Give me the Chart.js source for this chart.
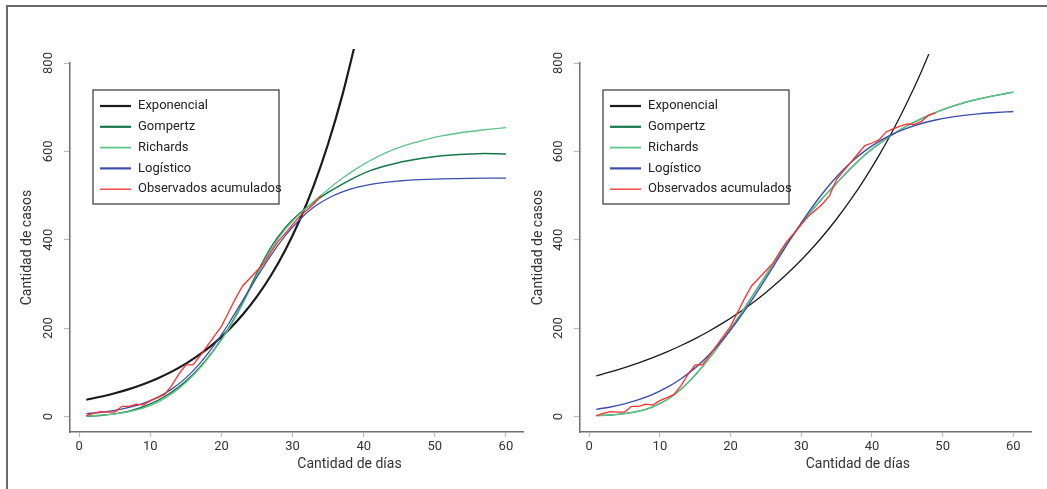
<!DOCTYPE html>
<html>
<head>
<meta charset="utf-8">
<script src="https://cdn.jsdelivr.net/npm/chart.js@4.4.0/dist/chart.umd.min.js"></script>
<style>
    body { margin: 0; background: #fff; }
    #wrap { position: relative; width: 1047px; height: 489px; overflow: hidden; }
    #frame { position: absolute; left: 6px; top: 5px; right: -4px; bottom: -4px; border-top: 2px solid #6a6a6a; border-left: 2px solid #6a6a6a; }
    canvas { position: absolute; top: 0; }
</style>
</head>
<body>
<div id="wrap">
    <div id="frame"></div>
    <canvas id="left-chart" width="525" height="489" style="left:0"></canvas>
    <canvas id="right-chart" width="522" height="489" style="left:525px"></canvas>
</div>
<script>
// --- Data ---
const legendLabels = ['Exponencial', 'Gompertz', 'Richards', 'Logístico', 'Observados acumulados'];
const xTicks = [0, 10, 20, 30, 40, 50, 60];
const yTicks = [0, 200, 400, 600, 800];
const xTitle = 'Cantidad de días';
const yTitle = 'Cantidad de casos';

// days for the fitted curves (every 2 days) and for the observed counts
const modelDays = [1, 3, 5, 7, 9, 11, 13, 15, 17, 19, 21, 23, 25, 27, 29, 31, 33, 35, 37, 39, 41, 43, 45, 47, 49, 51, 53, 55, 57, 59, 60];
const obsDays = [1, 2, 3, 4, 5, 6, 7, 8, 9, 10, 11, 12, 13, 14, 15, 16, 17, 18, 19, 20, 21, 22, 23, 24, 25,
    26, 27, 28, 29, 30, 31, 32, 33, 34, 35, 36, 37, 38, 39, 40, 41, 42, 43, 44, 45, 46, 47, 48, 49];

// accumulated observed cases (left panel uses the first 34 days)
const observed = [2, 7, 11, 10, 10, 23, 23, 28, 26, 36, 43, 50, 70, 96, 117, 117, 138, 160, 182, 204, 236, 268, 296, 313, 330,
    347, 373, 397, 415, 435, 453, 467, 481, 500, 537, 556, 575, 594, 613, 619, 626, 644, 651, 657, 662, 661, 668, 682, 687];
const leftObsDays = 34;

// left panel fits
const expLeft = [38.0, 44.8, 52.7, 62.1, 73.2, 86.3, 101.6, 119.7, 141.1, 166.2, 195.8, 230.8, 271.9, 320.3, 377.4, 444.7, 523.9, 617.3, 727.3, 856.9];
const gompLeft = [1, 2.5, 6, 12, 22, 36, 55, 80, 112, 152, 200, 258, 325, 384, 428, 460, 485, 507, 526, 543, 557, 567, 575, 581, 586, 590, 592.5, 594, 595, 594.5, 594];
const richLeft = [1.5, 3, 6, 11, 19, 32, 51, 77, 110, 151, 198, 255, 320, 379, 424, 458, 487, 514, 539, 561, 580, 596, 609, 619, 628, 635, 640.5, 645, 649, 652, 654];
const logiLeft = [6.5, 9.5, 14, 20.5, 30, 43.5, 62, 87.5, 121, 162, 210, 263, 316, 366, 410, 446, 474, 494, 508.5, 518.5, 525.5, 530, 533, 535.3, 536.8, 537.8, 538.5, 539, 539.3, 539.5, 539.6];

// right panel fits
const expRight = [92.0, 100.9, 110.8, 121.6, 133.4, 146.4, 160.7, 176.4, 193.6, 212.4, 233.1, 255.8, 280.8, 308.2, 338.2, 371.1, 407.3, 447.0, 490.6, 538.4, 590.8, 648.4, 711.6, 781.0, 857.1];
const gompRight = [2, 3.5, 6.5, 12, 22, 38, 62, 94, 132, 175, 222, 271, 320, 369, 414, 456, 494, 528, 562, 592, 617, 639, 658, 674, 688, 700, 710, 718, 725, 731, 734];
const richRight = [2, 3.5, 6.5, 12, 22, 38, 62, 94, 132, 175, 222, 271, 320, 369, 414, 456, 494, 528, 562, 592, 617, 639, 658, 674, 688, 700, 710, 718, 725, 731, 734];
const logiRight = [16.3, 21.7, 28.8, 38.1, 50.2, 65.8, 85.5, 110.1, 140.2, 175.9, 217.3, 263.4, 312.9, 363.9, 414.2, 461.6, 504.8, 542.6, 574.7, 601.2, 622.7, 639.6, 652.8, 663.1, 670.9, 676.9, 681.4, 684.9, 687.4, 689.3, 690.1];

// --- Style ---
const family = 'Roboto, "Liberation Sans", Arial, sans-serif';
const seriesColors = ['#1a1a1a', '#17774a', '#5ec48a', '#3b4fa8', '#ff2d2d'];
const legendWidths = [2.2, 2.2, 1.8, 2.2, 1.3];
const axisColor = '#6e6e6e';
const tickColor = '#b8b8b8';
const textColor = '#333';

function pts(days, vals) {
    return vals.map((v, i) => ({ x: days[i], y: v }));
}

// legend box drawn inside the plot, like the R original
const legendBox = {
    id: 'legendBox',
    afterDatasetsDraw(chart) {
        const { ctx, chartArea } = chart;
        const x0 = chartArea.left + 23, y0 = 90, w = 186, h = 114;
        ctx.save();
        ctx.strokeStyle = '#444';
        ctx.lineWidth = 1.3;
        ctx.strokeRect(x0, y0, w, h);
        ctx.font = `13px ${family}`;
        ctx.textBaseline = 'middle';
        ctx.fillStyle = '#222';
        chart.data.datasets.forEach((ds, i) => {
            const y = y0 + 16 + i * 20.8;
            ctx.strokeStyle = ds.borderColor;
            ctx.lineWidth = legendWidths[i];
            ctx.beginPath();
            ctx.moveTo(x0 + 7, y);
            ctx.lineTo(x0 + 38, y);
            ctx.stroke();
            ctx.fillText(ds.label, x0 + 45, y);
        });
        ctx.restore();
    }
};

// x title sits right of centre in the original
const xTitlePlugin = {
    id: 'xTitle',
    afterDraw(chart) {
        const { ctx, scales: { x } } = chart;
        ctx.save();
        ctx.font = `14px ${family}`;
        ctx.fillStyle = textColor;
        ctx.textAlign = 'center';
        ctx.textBaseline = 'middle';
        ctx.fillText(xTitle, x.getPixelForValue(38), 464);
        ctx.restore();
    }
};

function makeChart(canvasId, p) {
    const series = [
        [modelDays, p.exp], [modelDays, p.gomp], [modelDays, p.rich], [modelDays, p.logi], [obsDays, p.obs]
    ];
    const datasets = series.map(([days, vals], i) => ({
        label: legendLabels[i],
        data: pts(days, vals),
        borderColor: seriesColors[i],
        borderWidth: p.widths[i],
        pointRadius: 0,
        tension: 0,
        cubicInterpolationMode: i < 4 ? 'monotone' : 'default',
        capBezierPoints: false,
        order: 4 - i,
        clip: { left: 2, top: p.clipTop, right: 2, bottom: 2 }
    }));

    return new Chart(document.getElementById(canvasId), {
        type: 'line',
        data: { datasets },
        options: {
            responsive: false,
            animation: false,
            devicePixelRatio: 1,
            layout: { padding: { top: 63, right: p.padRight, left: 0, bottom: 0 } },
            plugins: { legend: { display: false }, tooltip: { enabled: false } },
            scales: {
                x: {
                    type: 'linear',
                    min: -1.3,
                    max: 62.5,
                    afterBuildTicks: s => { s.ticks = xTicks.map(v => ({ value: v })); },
                    afterFit: s => { s.height = 57; },
                    border: { display: true, color: axisColor, width: 1.5 },
                    grid: { display: true, drawOnChartArea: false, drawTicks: true, tickLength: 5, tickColor: tickColor, tickWidth: 1.2 },
                    ticks: { autoSkip: false, maxRotation: 0, padding: 2, color: textColor, font: { size: 13, family } }
                },
                y: {
                    type: 'linear',
                    min: -35,
                    max: 800,
                    afterBuildTicks: s => { s.ticks = yTicks.map(v => ({ value: v })); },
                    afterFit: s => { s.width = p.yAxisWidth; },
                    border: { display: true, color: axisColor, width: 1.5 },
                    grid: { display: true, drawOnChartArea: false, drawTicks: true, tickLength: 6, tickColor: tickColor, tickWidth: 1.2 },
                    ticks: { autoSkip: false, minRotation: 90, maxRotation: 90, crossAlign: 'center', padding: 4, color: textColor, font: { size: 13, family } },
                    title: { display: true, text: yTitle, color: textColor, font: { size: 14, family }, padding: { top: p.yTitlePad, bottom: 0 } }
                }
            }
        },
        plugins: [legendBox, xTitlePlugin]
    });
}

makeChart('left-chart', {
    exp: expLeft, gomp: gompLeft, rich: richLeft, logi: logiLeft,
    obs: observed.slice(0, leftObsDays),
    widths: [2.2, 1.5, 1.3, 1.3, 1.3],
    clipTop: 14, padRight: 1.3, yAxisWidth: 70, yTitlePad: 19
});

makeChart('right-chart', {
    exp: expRight, gomp: gompRight, rich: richRight, logi: logiRight,
    obs: observed,
    widths: [1.3, 1.3, 1.4, 1.4, 1.3],
    clipTop: 9, padRight: 16, yAxisWidth: 55, yTitlePad: 5
});
</script>
</body>
</html>
